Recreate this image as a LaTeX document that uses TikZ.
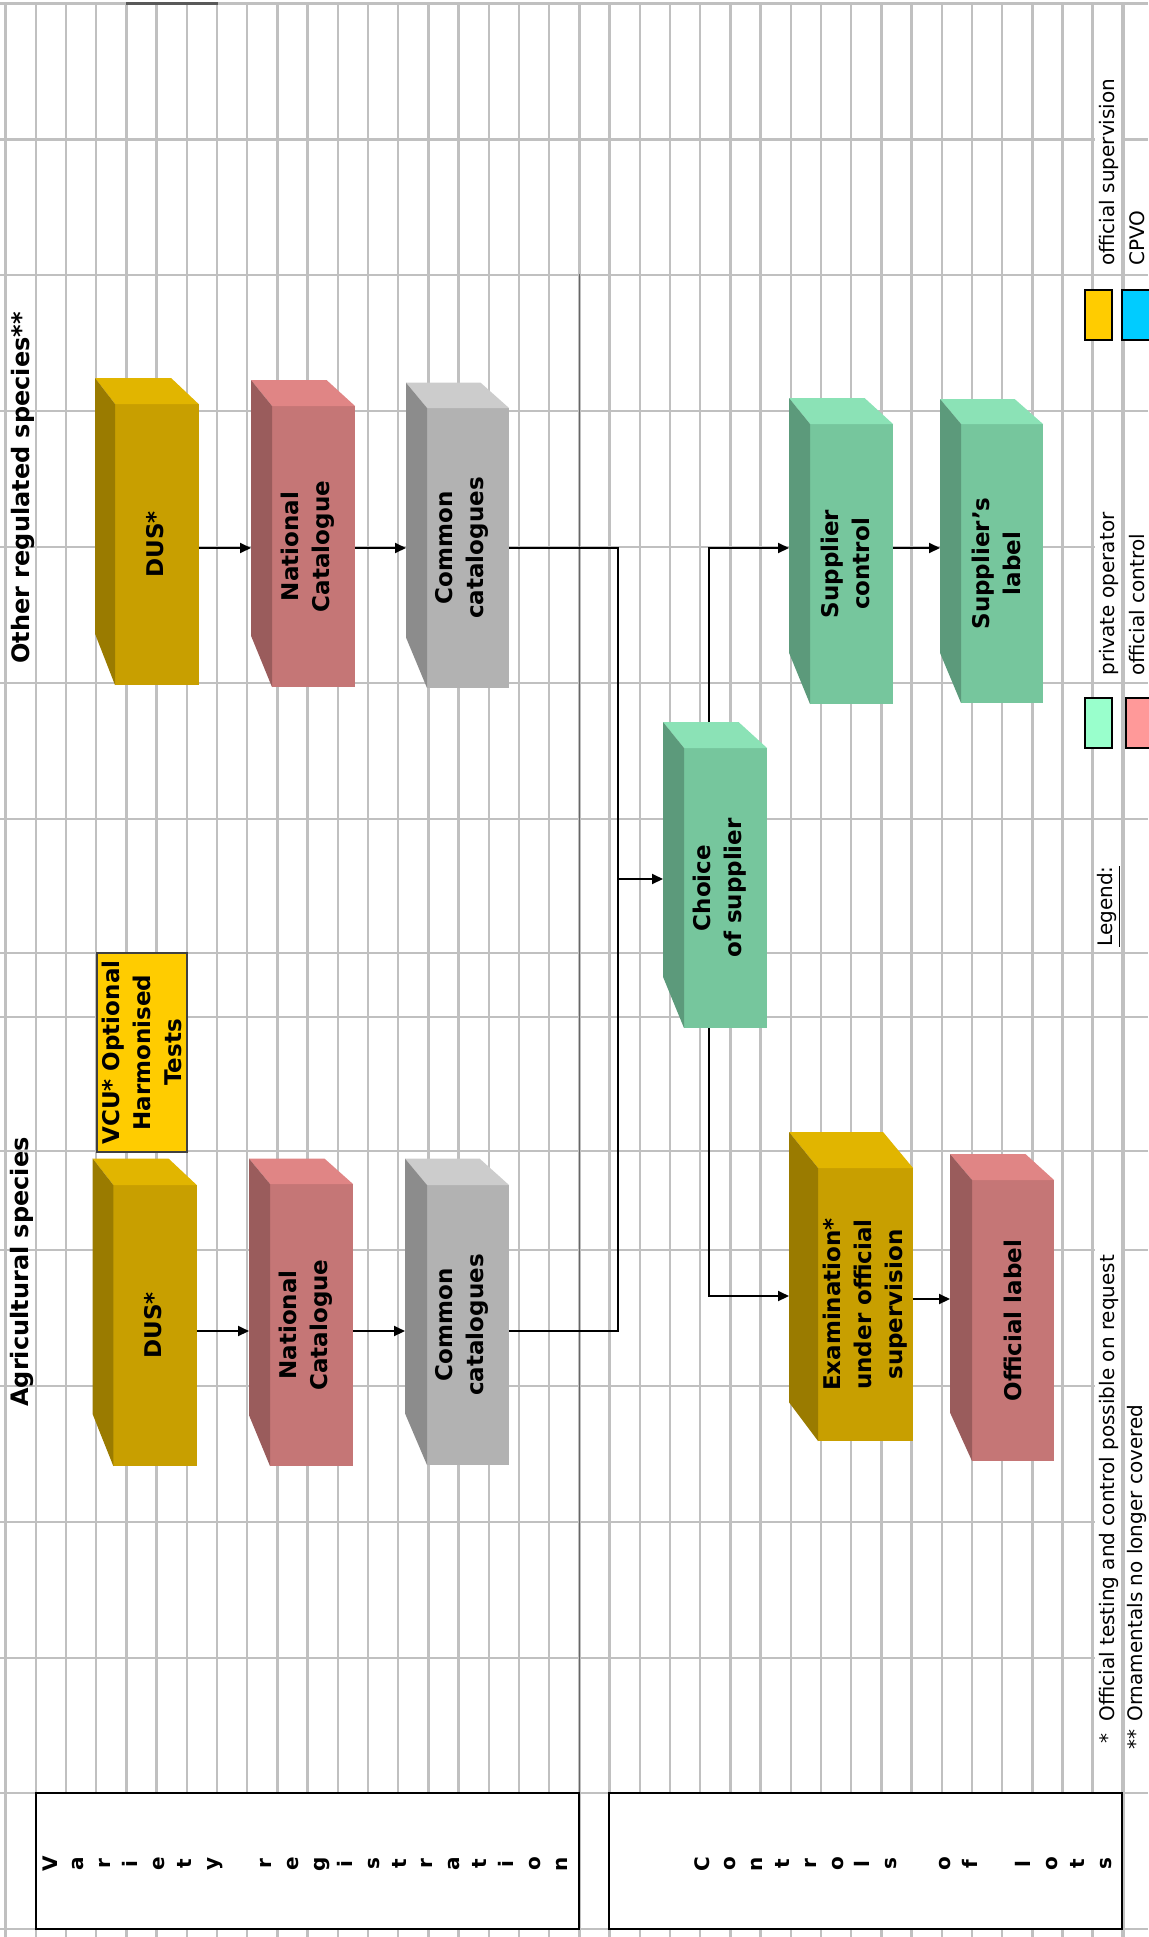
\documentclass[tikz,border=0pt]{standalone}
\usepackage{fontspec}
\setmainfont{DejaVu Sans}
\usetikzlibrary{arrows.meta}
\definecolor{gridc}{HTML}{C0C0C0}
\definecolor{goldF}{HTML}{C89F00}
\definecolor{goldT}{HTML}{E1B500}
\definecolor{goldS}{HTML}{9A7B00}
\definecolor{pinkF}{HTML}{C57676}
\definecolor{pinkT}{HTML}{E08585}
\definecolor{pinkS}{HTML}{9A5C5C}
\definecolor{grayF}{HTML}{B2B2B2}
\definecolor{grayT}{HTML}{CCCCCC}
\definecolor{grayS}{HTML}{8C8C8C}
\definecolor{greenF}{HTML}{76C69D}
\definecolor{greenT}{HTML}{8BE2B6}
\definecolor{greenS}{HTML}{5C9A7B}
\definecolor{vcuY}{HTML}{FFCC00}
\definecolor{legY}{HTML}{FFCC00}
\definecolor{legB}{HTML}{00CCFF}
\definecolor{legG}{HTML}{99FFCC}
\definecolor{legP}{HTML}{FF9999}
% #1 name, #2 colour prefix, #3-#6 front face x0 y0 x1 y1, #7 #8 back top-left, #9 back scale
\newcommand\cuboid[9]{%
  \node[facef, fill=#2F, minimum width={(#5-#3)*0.5pt}, minimum height={(#6-#4)*0.5pt}] (#1) at ({(#3+#5)/2},{(#4+#6)/2}) {};
  \node[backface, minimum width={#9*(#5-#3)*0.5pt}, minimum height={#9*(#6-#4)*0.5pt}] (#1-back) at (#7,#8) {};
  \fill[#2T] (#1-back.north west) -- (#1-back.north east) -- (#1.north east) -- (#1.north west) -- cycle;
  \fill[#2S] (#1-back.north west) -- (#1.north west) -- (#1.south west) -- (#1-back.south west) -- cycle;
}
\begin{document}
\begin{tikzpicture}[x=0.5pt,y=-0.5pt,
  gridl/.style={draw=gridc, line width=1.2pt},
  facef/.style={inner sep=0pt, outer sep=0pt, draw=none},
  backface/.style={inner sep=0pt, outer sep=0pt, draw=none, anchor=north west},
  lbl/.style={rotate=90, align=center, inner sep=0pt, font=\fontsize{11.5}{15.5}\selectfont\bfseries},
  hdr/.style={rotate=90, inner sep=0pt, font=\fontsize{12}{14}\selectfont\bfseries},
  legt/.style={rotate=90, anchor=west, inner sep=0pt, font=\fontsize{10}{12}\selectfont},
  ltr/.style={rotate=90, anchor=base, inner sep=0pt, font=\fontsize{10}{11}\selectfont\bfseries},
  lbox/.style={draw=black, line width=1.2pt, fill=white, inner sep=0pt},
  legsq/.style={draw=black, line width=1.2pt, inner sep=0pt},
  ln/.style={line width=1pt, draw=black},
  arr/.style={ln, -{Triangle[length=5.5pt,width=5pt]}}]
\useasboundingbox (0,0) rectangle (1148,1937);
\fill[white] (0,0) rectangle (1148,1937);
% spreadsheet grid
\foreach \k in {0,...,37} \draw[gridl] ({5.5+30.2*\k},3.7) -- ({5.5+30.2*\k},1937);
\foreach \k in {36,37} \draw[gridc, line width=1.6pt] ({5.5+30.2*\k},3.7) -- ({5.5+30.2*\k},1937);
\foreach \y in {3.7,139.5,275,411,547,683,819,953,1017,1151,1250,1386,1522,1658,1793,1929}
  \draw[gridl] (0,\y) -- (1148,\y);
% text overflow hides grid lines
\fill[white] (1094.8,76) rectangle (1121.2,269);
\fill[white] (1094.8,505) rectangle (1121.2,680);
\fill[white] (1094.8,1234) rectangle (1121.2,1752);
\fill[white] (1124.8,528) rectangle (1148,680);
\fill[white] (1124.8,1384) rectangle (1148,1752);
% darker cell borders
\draw[black!65, line width=1.6pt] (126,3.7) -- (218,3.7);
\draw[black!60, line width=0.8pt] (579.5,274) -- (579.5,1793);

% headings
\node[hdr] (hAgri) at (22,1272) {Agricultural species};
\node[hdr] (hOther) at (23,488) {Other regulated species**};

% cuboids
\cuboid{dusU}{gold}{115}{404}{198.6}{685}{95}{378}{0.91}
\cuboid{natU}{pink}{272}{406}{355}{687}{251}{380}{0.91}
\cuboid{comU}{gray}{427}{408}{509}{688}{406}{382.7}{0.91}
\cuboid{dusL}{gold}{113.3}{1185}{196.7}{1466}{92.7}{1158.6}{0.91}
\cuboid{natL}{pink}{270}{1184}{353}{1466}{249}{1158.6}{0.91}
\cuboid{comL}{gray}{427}{1185}{509}{1465}{405}{1158.6}{0.91}
\cuboid{choice}{green}{684}{748}{767}{1028}{663}{722}{0.91}
\cuboid{supctl}{green}{810}{424}{893}{704}{789}{398}{0.91}
\cuboid{suplab}{green}{961}{424}{1043}{703}{940}{399}{0.91}
\cuboid{exam}{gold}{818}{1168}{913}{1441}{789}{1132}{0.99}
\cuboid{offl}{pink}{972}{1180}{1054}{1461}{950}{1154}{0.92}

\node[lbl] (dusU-t) at ([xshift=-1pt]dusU.center) {DUS*};
\node[lbl] (natU-t) at ([xshift=-3pt]natU.center) {National\\Catalogue};
\node[lbl] (comU-t) at ([xshift=-3pt]comU.center) {Common\\catalogues};
\node[lbl] (dusL-t) at ([xshift=-1pt]dusL.center) {DUS*};
\node[lbl] (natL-t) at ([xshift=-3pt]natL.center) {National\\Catalogue};
\node[lbl] (comL-t) at ([xshift=-3pt]comL.center) {Common\\catalogues};
\node[lbl] (choice-t) at ([xshift=-3pt]choice.center) {Choice\\of supplier};
\node[lbl] (supctl-t) at ([xshift=-3pt]supctl.center) {Supplier\\control};
\node[lbl] (suplab-t) at ([xshift=-3pt]suplab.center) {Supplier's\\label};
\node[lbl] (exam-t) at (exam.center) {Examination*\\under official\\supervision};
\node[lbl] (offl-t) at (offl.center) {Official label};

% VCU box
\node[lbl, fill=vcuY, draw=black!75, line width=1pt, minimum width=99.5pt, minimum height=45pt] (vcu) at (142,1052.5) {VCU* Optional\\Harmonised\\Tests};

% connectors
\coordinate (rowU) at (0,548);
\coordinate (rowL) at (0,1331);
\coordinate (rowE) at (0,1296);
\coordinate (rowO) at (0,1299);
\coordinate (colC) at (709,0);
\coordinate (bus) at (618,879);
\draw[arr] (dusU.east |- rowU) -- (natU-back.west |- rowU);
\draw[arr] (natU.east |- rowU) -- (comU-back.west |- rowU);
\draw[ln] (comU.east |- rowU) -| (bus);
\draw[arr] (dusL.east |- rowL) -- (natL-back.west |- rowL);
\draw[arr] (natL.east |- rowL) -- (comL-back.west |- rowL);
\draw[ln] (comL.east |- rowL) -| (bus);
\draw[arr] (bus) -- (choice-back.west |- bus);
\draw[arr] (colC |- choice-back.north) |- (supctl-back.west |- rowU);
\draw[arr] (supctl.east |- rowU) -- (suplab-back.west |- rowU);
\draw[arr] (colC |- choice.south) |- (exam-back.west |- rowE);
\draw[arr] (exam.east |- rowO) -- (offl-back.west |- rowO);

% legend
\node[legsq, fill=legY, minimum width=13.5pt, minimum height=25pt] (sqY) at (1098.5,315) {};
\node[legsq, fill=legB, minimum width=14.5pt, minimum height=25pt] (sqB) at (1136.5,315) {};
\node[legsq, fill=legG, minimum width=13.5pt, minimum height=25pt] (sqG) at (1098.5,723) {};
\node[legsq, fill=legP, minimum width=12.5pt, minimum height=25pt] (sqP) at (1138.5,723) {};
\node[legt] (tSup) at (1109,266) {official supervision};
\node[legt] (tCpvo) at (1137,266) {CPVO};
\node[legt] (tPriv) at (1109,676) {private operator};
\node[legt] (tOffc) at (1137,676) {official control};
\node[legt] (tLeg) at (1109,947) {\underline{Legend:}};
\node[legt] (tNote1) at (1109,1744) {*\hspace{0.6em}Official testing and control possible on request};
\node[legt] (tNote2) at (1137,1750) {**\hspace{0.4em}Ornamentals no longer covered};

% bottom boxes
\node[lbox, minimum width=271.5pt, minimum height=68pt] (vrbox) at (307.5,1861) {};
\node[lbox, minimum width=256.5pt, minimum height=68pt] (clbox) at (865.5,1861) {};
\foreach \ch [count=\i from 0] in {V,a,r,i,e,t,y,{},r,e,g,i,s,t,r,a,t,i,o,n}
  \node[ltr] (vr\i) at ({57+26.85*\i},1864) {\ch};
\foreach \ch [count=\i from 0] in {C,o,n,t,r,o,l,s,{},o,f,{},l,o,t,s}
  \node[ltr] (cl\i) at ({709+26.8*\i},1864) {\ch};
\end{tikzpicture}
\end{document}
